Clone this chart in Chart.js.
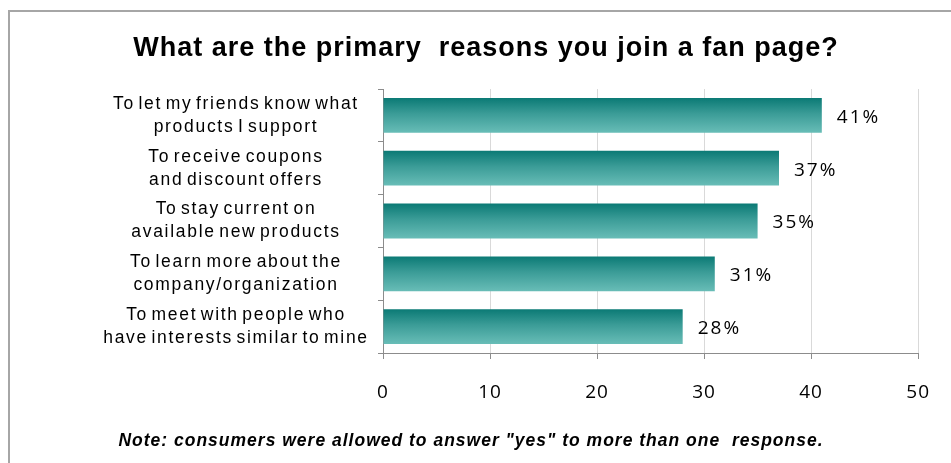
<!DOCTYPE html>
<html>
<head>
<meta charset="utf-8">
<script src="https://cdn.jsdelivr.net/npm/chart.js@4.4.1/dist/chart.umd.min.js"></script>
<style>
  html, body { margin: 0; padding: 0; background: #fff; overflow: hidden; }
  #frame {
    position: absolute; left: 8px; top: 10px; width: 943px; height: 453px;
    border-top: 2px solid #a6a6a6; border-left: 2px solid #a6a6a6;
    box-sizing: border-box;
  }
  #wrap { position: absolute; left: 0; top: 0; width: 941px; height: 451px; }
</style>
</head>
<body>
<div id="frame"><div id="wrap"><canvas id="fanChart"></canvas></div></div>
<script>
// Survey answers, one row per reason (share of respondents, %)
const reasons = [
  ["To let my friends know what", "products I support"],
  ["To receive coupons", "and discount offers"],
  ["To stay current on", "available new products"],
  ["To learn more about the", "company/organization"],
  ["To meet with people who", "have interests similar to mine"]
];
const shares = [41, 37, 35, 31, 28];
const axisTicks = [0, 10, 20, 30, 40, 50];

const chartTitle = "What are the primary  reasons you join a fan page?";
const chartNote = "Note: consumers were allowed to answer \"yes\" to more than one  response.";

const numFont = "'Open Sans', 'Liberation Sans', sans-serif";
const textFont = "'Liberation Sans', Arial, sans-serif";
const BAR_PCT = 0.66;

// vertical teal shading for each bar, dark on top fading lighter below
function barFill(ctx) {
  const chart = ctx.chart;
  const y = chart.scales.y;
  if (!chart.chartArea || !y || ctx.dataIndex === undefined) return "#2f9893";
  const half = (y.bottom - y.top) / reasons.length * BAR_PCT / 2;
  const mid = y.getPixelForValue(ctx.dataIndex);
  const g = chart.ctx.createLinearGradient(0, mid - half, 0, mid + half);
  g.addColorStop(0, "#0b7a75");
  g.addColorStop(0.45, "#3b9c97");
  g.addColorStop(1, "#68bdb7");
  return g;
}

// draw a line of text centred on cx (letter spacing makes textAlign centre drift)
function centredText(c, text, cx, y) {
  const w = c.measureText(text).width;
  c.textAlign = "left";
  c.fillText(text, cx - w / 2, y);
}

// slightly loose letter spacing for the axis numbers chart.js draws itself
const looseText = {
  id: "looseText",
  beforeDraw(chart) { chart.ctx.letterSpacing = "1px"; },
  afterDraw(chart) { chart.ctx.letterSpacing = "0px"; }
};

// heading above the plot and the footnote under the axis
const headings = {
  id: "headings",
  afterDraw(chart) {
    const c = chart.ctx;
    c.save();
    c.fillStyle = "#000";
    c.textBaseline = "middle";
    c.font = "bold 27px " + textFont;
    c.letterSpacing = "1px";
    centredText(c, chartTitle, 476, 37);
    c.font = "italic bold 17.5px " + textFont;
    c.letterSpacing = "1px";
    centredText(c, chartNote, 461, 429);
    c.restore();
  }
};

// two-line reason labels, centred to the left of the y axis
const reasonLabels = {
  id: "reasonLabels",
  afterDraw(chart) {
    const c = chart.ctx;
    const y = chart.scales.y;
    const cx = y.right - 147;
    c.save();
    c.font = "17.5px " + textFont;
    c.letterSpacing = "1.7px";
    c.wordSpacing = "-3px";
    c.fillStyle = "#000";
    c.textBaseline = "middle";
    reasons.forEach((lines, i) => {
      const mid = y.getPixelForTick(i);
      const step = 23;
      const top = mid - (lines.length - 1) * step / 2;
      lines.forEach((t, k) => centredText(c, t, cx, top + k * step));
    });
    c.restore();
  }
};

// "41%" style value text just past the end of each bar
const valueLabels = {
  id: "valueLabels",
  afterDatasetsDraw(chart) {
    const c = chart.ctx;
    const meta = chart.getDatasetMeta(0);
    c.save();
    c.font = "19px " + numFont;
    c.letterSpacing = "2px";
    c.fillStyle = "#000";
    c.textBaseline = "middle";
    meta.data.forEach((bar, i) => {
      c.fillText(shares[i] + "%", bar.x + 15, bar.y + 2);
    });
    c.restore();
  }
};

new Chart(document.getElementById("fanChart"), {
  type: "bar",
  data: {
    labels: reasons,
    datasets: [{
      data: shares,
      backgroundColor: barFill,
      borderWidth: 0,
      categoryPercentage: 1,
      barPercentage: BAR_PCT
    }]
  },
  options: {
    indexAxis: "y",
    responsive: true,
    maintainAspectRatio: false,
    animation: false,
    layout: { padding: { left: 0, right: 23, top: 77, bottom: 33 } },
    scales: {
      x: {
        min: 0,
        max: 50,
        afterBuildTicks(scale) {
          scale.ticks = axisTicks.map(v => ({ value: v }));
        },
        afterFit(scale) { scale.height = 77; },
        border: { color: "#8c8c8c", width: 1 },
        grid: { color: "#d9d9d9", tickColor: "#8c8c8c", tickLength: 6 },
        ticks: {
          color: "#000",
          padding: 22,
          font: { family: numFont, size: 19 }
        }
      },
      y: {
        afterFit(scale) { scale.width = 373; },
        border: { color: "#8c8c8c", width: 1 },
        grid: { drawOnChartArea: false, tickColor: "#8c8c8c", tickLength: 5 },
        ticks: { display: false }
      }
    },
    plugins: {
      legend: { display: false },
      tooltip: { enabled: false },
      title: { display: false }
    }
  },
  plugins: [looseText, headings, reasonLabels, valueLabels]
});
</script>
</body>
</html>
